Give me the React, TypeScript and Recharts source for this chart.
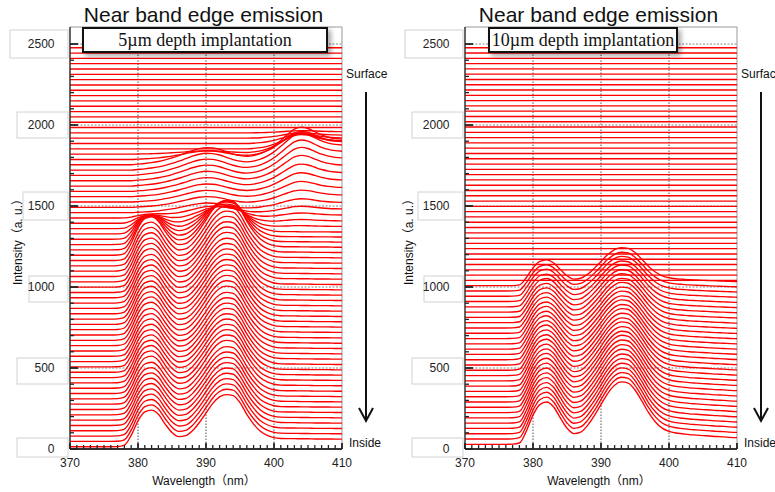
import React from 'react';
import { LineChart, Line, XAxis, YAxis, ReferenceLine } from 'recharts';

// Wavelength grid (nm)
const wavelengths = [
  370, 371, 372, 373, 374, 375, 376, 377, 378, 379, 380, 381, 382, 383, 384, 385, 386, 387, 388, 389,
  390, 391, 392, 393, 394, 395, 396, 397, 398, 399, 400, 401, 402, 403, 404, 405, 406, 407, 408, 409, 410,
];

// Spectral shapes (intensity above each trace's own baseline)
const nbeShape5 = [
  0, 0, 0, 0, 0, 0, 0, 1, 10, 70, 160, 215, 226, 200, 140, 88, 62, 68, 98, 148,
  208, 268, 308, 322, 316, 272, 200, 140, 95, 70, 56, 51, 50, 50, 49, 49, 48, 48, 48, 47, 47,
];
const lowShape5 = [
  0, 0, 0, 0, 0, 0, 0, 0, 0, 0, 4, 8, 13, 20, 30, 42, 56, 72, 88, 100,
  106, 104, 95, 80, 66, 56, 52, 52, 55, 58, 60, 62, 62, 62, 62, 62, 62, 62, 62, 62, 62,
];
const highShape5 = [
  0, 0, 0, 0, 0, 0, 0, 0, 0, 0, 0, 0, 0, 0, 0, 0, 0, 0, 0, 0,
  0, 0, 0, 0, 0, 0, 0, 5, 14, 30, 55, 88, 125, 158, 170, 162, 142, 122, 108, 100, 96,
];
const nbeShape10 = [
  0, 0, 0, 0, 0, 0, 0, 1, 8, 80, 180, 245, 261, 232, 165, 100, 66, 75, 115, 175,
  245, 315, 365, 385, 378, 335, 268, 195, 138, 100, 80, 70, 65, 60, 57, 54, 51, 48, 46, 43, 41,
];

// Per-trace amplitudes (trace 0 = inside/bottom, trace 75 = surface/top)
const nbeScale5 = [
  1, 1, 1, 1, 1, 1, 1, 1, 1, 1,
  1.02, 1.02, 1.02, 1.02, 1.02, 1.02, 1.02, 1.02, 1.02, 1.02,
  1.04, 1.04, 1.04, 1.04, 1.04, 1.04, 1.04, 1.04, 1.04, 1.04,
  1.05, 1.05, 1.05, 1.05, 1.05, 1.05, 1.05,
  0.92, 0.8, 0.66, 0.5, 0.34, 0.2, 0.08,
  0, 0, 0, 0, 0, 0, 0, 0, 0, 0, 0, 0, 0, 0, 0, 0,
  0, 0, 0, 0, 0, 0, 0, 0, 0, 0, 0, 0, 0, 0, 0, 0,
];
const lowScale5 = [
  0, 0, 0, 0, 0, 0, 0, 0, 0, 0, 0, 0, 0, 0, 0, 0, 0, 0, 0, 0,
  0, 0, 0, 0, 0, 0, 0, 0, 0, 0, 0, 0, 0, 0, 0, 0, 0,
  0.08, 0.15, 0.22, 0.29, 0.36, 0.43, 0.5, 0.56, 0.62, 0.68, 0.74, 0.8, 0.86, 0.91, 0.95, 0.98, 1, 0.5, 0.2,
  0, 0, 0, 0, 0, 0, 0, 0, 0, 0, 0, 0, 0, 0, 0, 0, 0, 0, 0, 0,
];
const highScale5 = [
  0, 0, 0, 0, 0, 0, 0, 0, 0, 0, 0, 0, 0, 0, 0, 0, 0, 0, 0, 0,
  0, 0, 0, 0, 0, 0, 0, 0, 0, 0, 0, 0, 0, 0, 0, 0, 0, 0, 0, 0,
  0.05, 0.1, 0.16, 0.22, 0.3, 0.4, 0.5, 0.6, 0.7, 0.8, 0.88, 0.94, 0.98, 1, 0.84, 0.68, 0.52, 0.36, 0.2, 0.08,
  0, 0, 0, 0, 0, 0, 0, 0, 0, 0, 0, 0, 0, 0, 0, 0,
];
const nbeScale10 = [
  1, 0.99, 0.98, 0.97, 0.96, 0.95, 0.94, 0.93, 0.92, 0.91,
  0.9, 0.88, 0.87, 0.86, 0.84, 0.83, 0.82, 0.8, 0.79, 0.77,
  0.76, 0.74, 0.73, 0.71, 0.7, 0.68, 0.67, 0.65, 0.64, 0.62,
  0.61,
  0, 0, 0, 0, 0, 0, 0, 0, 0, 0, 0, 0, 0, 0, 0, 0, 0, 0, 0, 0, 0, 0, 0,
  0, 0, 0, 0, 0, 0, 0, 0, 0, 0, 0, 0, 0, 0, 0, 0, 0, 0, 0, 0, 0, 0,
];

// Waterfall offsets (first baseline and step between traces)
const traceCount = 76;
const baseline5 = 14;
const offsetStep5 = 32.84;
const baseline10 = 29;
const offsetStep10 = 32.64;

// Axis ticks
const yTicks = [0, 100, 200, 300, 400, 500, 600, 700, 800, 900, 1000, 1100, 1200, 1300, 1400, 1500, 1600, 1700, 1800, 1900, 2000, 2100, 2200, 2300, 2400, 2500];
const yGrid = [500, 1000, 1500, 2000, 2500];
const xTicks = wavelengths;
const xGrid = [380, 390, 400];
const yMax = 2605;

const SANS = "'Liberation Sans', Arial, 'Noto Sans CJK JP', sans-serif";
const SERIF = "'Liberation Serif', 'Times New Roman', serif";

type Comp = [number[], number[]];

function buildRows(base: number, step: number, comps: Comp[]) {
  return wavelengths.map((wl, k) => {
    const row: Record<string, number> = { wl };
    for (let i = 0; i < traceCount; i++) {
      let v = base + step * i;
      for (const [sc, sh] of comps) v += sc[i] * sh[k];
      row['t' + i] = v;
    }
    return row;
  });
}

const rows5 = buildRows(baseline5, offsetStep5, [
  [nbeScale5, nbeShape5],
  [lowScale5, lowShape5],
  [highScale5, highShape5],
]);
const rows10 = buildRows(baseline10, offsetStep10, [[nbeScale10, nbeShape10]]);

const boxGeom: Record<number, [number, number, number]> = {
  2500: [60, 14, 14],
  2000: [53, 13, 13],
  1500: [47, 14, 14],
  1000: [41, 11, 15],
  500: [53, 10, 16],
  0: [53, 11, 8],
};

const XTick = (props: any) => {
  const { x, y, payload } = props;
  const v = payload.value;
  const major = v % 10 === 0;
  return (
    <g>
      <line x1={x} x2={x} y1={y} y2={y - (major ? 6 : 4)} stroke="#222" strokeWidth={major ? 1.8 : 1.3} />
      {major && (
        <text x={x} y={y + 18} textAnchor="middle" fontSize={12} fontFamily={SANS} fill="#222">
          {v}
        </text>
      )}
    </g>
  );
};

const YTick = (props: any) => {
  const { x, y, payload } = props;
  const v = payload.value;
  const major = v % 500 === 0;
  const g = boxGeom[v];
  return (
    <g>
      {major && g && (
        <rect x={x - g[0]} y={y - g[1]} width={g[0] - 2} height={g[1] + g[2]} fill="#fff" stroke="#d2d2d2" strokeWidth={1} />
      )}
      {major && (
        <text x={x - 15.5} y={y} dy="0.36em" textAnchor="end" fontSize={12} fontFamily={SANS} fill="#222">
          {v}
        </text>
      )}
      <line x1={x} x2={x + (major ? 8 : 4)} y1={y} y2={y} stroke="#222" strokeWidth={major ? 1.8 : 1.3} />
    </g>
  );
};

function Panel({ rows, left }: { rows: Record<string, number>[]; left: number }) {
  const lines = [];
  for (let i = 0; i < traceCount; i++) {
    lines.push(
      <Line
        key={'t' + i}
        dataKey={'t' + i}
        type="monotone"
        stroke="#ff0000"
        strokeWidth={1.35}
        dot={false}
        activeDot={false}
        isAnimationActive={false}
      />
    );
  }
  return (
    <div style={{ position: 'absolute', left, top: 0 }}>
      <LineChart width={388} height={492} data={rows} margin={{ top: 27, right: 46, bottom: 0, left: 10 }}>
        <XAxis
          dataKey="wl"
          type="number"
          domain={[370, 410]}
          ticks={xTicks}
          interval={0}
          tickSize={0}
          tickMargin={0}
          tickLine={false}
          axisLine={{ stroke: '#333', strokeWidth: 2 }}
          tick={(p: any) => <XTick {...p} />}
          height={43}
          allowDataOverflow
        />
        <YAxis
          type="number"
          domain={[0, yMax]}
          ticks={yTicks}
          interval={0}
          tickSize={0}
          tickMargin={0}
          tickLine={false}
          axisLine={{ stroke: '#333', strokeWidth: 1.5 }}
          tick={(p: any) => <YTick {...p} />}
          width={60}
          allowDataOverflow
        />
        {yGrid.map((v) => (
          <ReferenceLine key={'gy' + v} y={v} stroke="#8a8a8a" strokeWidth={1.2} strokeDasharray="2 1.5" />
        ))}
        {xGrid.map((v) => (
          <ReferenceLine key={'gx' + v} x={v} stroke="#555" strokeWidth={1} strokeDasharray="1.5 1.5" />
        ))}
        <ReferenceLine y={yMax} stroke="#999" strokeWidth={1} />
        <ReferenceLine x={410} stroke="#999" strokeWidth={1} />
        {lines}
      </LineChart>
    </div>
  );
}

const labelBox: React.CSSProperties = {
  position: 'absolute',
  top: 27,
  height: 26,
  boxSizing: 'border-box',
  border: '2px solid #111',
  background: '#fff',
  boxShadow: '3px 3px 5px rgba(0,0,0,0.35)',
  fontFamily: SERIF,
  fontSize: 18,
  lineHeight: '22px',
  textAlign: 'center',
  whiteSpace: 'nowrap',
  color: '#111',
  overflow: 'visible',
};

export default function App() {
  return (
    <div
      style={{
        position: 'absolute',
        left: 0,
        top: 0,
        width: 775,
        height: 492,
        background: '#fff',
        overflow: 'hidden',
      }}
    >
      <Panel rows={rows5} left={0} />
      <Panel rows={rows10} left={395} />
      <svg width={775} height={492} style={{ position: 'absolute', left: 0, top: 0, pointerEvents: 'none' }}>
        <g fontFamily={SANS} fill="#111">
          <text x={203.5} y={21.5} textAnchor="middle" fontSize={21}>Near band edge emission</text>
          <text x={598.5} y={21.5} textAnchor="middle" fontSize={21}>Near band edge emission</text>
          <text x={204} y={485} textAnchor="middle" fontSize={12}>Wavelength（nm）</text>
          <text x={599} y={485} textAnchor="middle" fontSize={12}>Wavelength（nm）</text>
          <text transform="translate(18,239) rotate(-90)" textAnchor="middle" dominantBaseline="central" fontSize={12}>
            Intensity（a. u.）
          </text>
          <text transform="translate(409,239) rotate(-90)" textAnchor="middle" dominantBaseline="central" fontSize={12}>
            Intensity（a. u.）
          </text>
          <text x={346} y={78} fontSize={12}>Surface</text>
          <text x={741} y={78} fontSize={12}>Surface</text>
          <text x={349} y={447} fontSize={12}>Inside</text>
          <text x={744} y={447} fontSize={12}>Inside</text>
        </g>
        <g stroke="#111" strokeWidth={2} fill="none">
          <line x1={366} y1={92} x2={366} y2={420} />
          <polyline points="359,408 366,421 373,408" />
          <line x1={761} y1={92} x2={761} y2={420} />
          <polyline points="754,408 761,421 768,408" />
        </g>
      </svg>
      <div style={{ ...labelBox, left: 82, width: 246 }}>5µm depth implantation</div>
      <div style={{ ...labelBox, left: 488, width: 190 }}>10µm depth implantation</div>
    </div>
  );
}
